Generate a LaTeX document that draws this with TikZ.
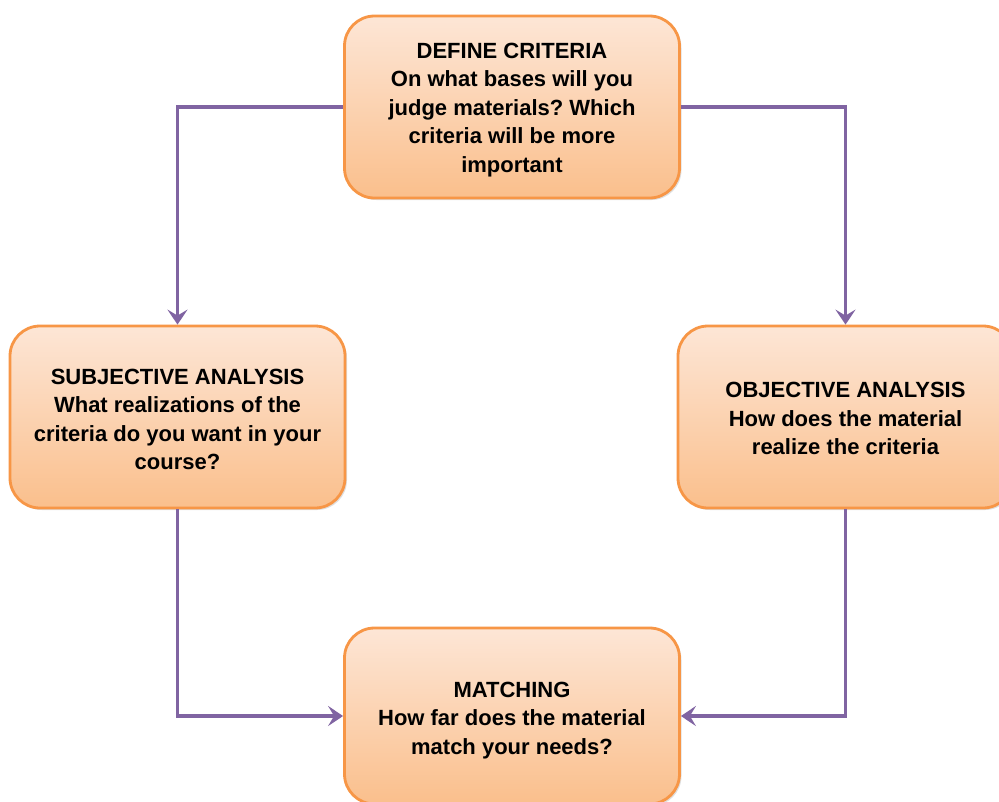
\documentclass[tikz,border=0pt]{standalone}
\usepackage{fontspec}
\setmainfont{Liberation Sans}
\frenchspacing
\usetikzlibrary{arrows.meta,shadows}
\definecolor{boxedge}{HTML}{F79646}
\definecolor{boxtop}{HTML}{FDE6D6}
\definecolor{boxbottom}{HTML}{FABF8C}
\definecolor{linkcol}{HTML}{8064A2}
\tikzset{
  stagebox/.style={draw=boxedge, line width=2.8pt, rounded corners=30pt,
    top color=boxtop, bottom color=boxbottom, minimum width=335pt,
    minimum height=182pt, inner sep=0pt,
    drop shadow={shadow xshift=2pt, shadow yshift=-2pt, opacity=0.25}},
  stagetext/.style={align=center, inner sep=0pt,
    font=\fontsize{22}{28.5}\selectfont\bfseries},
  link/.style={draw=linkcol, line width=3.6pt,
    -{Stealth[length=15pt, width=20pt, inset=6pt]}}
}
\begin{document}
\begin{tikzpicture}[x=1pt,y=-1pt]
  \useasboundingbox (0,0) rectangle (999,801);
  \clip (0,0) rectangle (999,801);
  \fill[white] (0,0) rectangle (999,801);
  % the four stages
  \node[stagebox] (define) at (512,107) {};
  \node[stagebox] (subj) at (177.5,417) {};
  \node[stagebox] (obj) at (845.5,417) {};
  \node[stagebox, minimum height=176pt] (match) at (512,716) {};
  % their texts
  \node[stagetext] (define-t) at ([yshift=-3pt]define.center)
    {DEFINE CRITERIA\\On what bases will you\\judge materials? Which\\criteria will be more\\important};
  \node[stagetext] (subj-t) at ([yshift=-2.5pt]subj.center)
    {SUBJECTIVE ANALYSIS\\What realizations of the\\criteria do you want in your\\course?};
  \node[stagetext] (obj-t) at ([yshift=-1.5pt]obj.center)
    {OBJECTIVE ANALYSIS\\How does the material\\realize the criteria};
  \node[stagetext] (match-t) at ([yshift=-4.5pt]match.center)
    {MATCHING\\How far does the material\\match your needs?};
  % the cycle
  \draw[link] (define.west) -| (subj.north);
  \draw[link] (define.east) -| (obj.north);
  \draw[link] (subj.south) |- (match.west);
  \draw[link] (obj.south) |- (match.east);
\end{tikzpicture}
\end{document}
